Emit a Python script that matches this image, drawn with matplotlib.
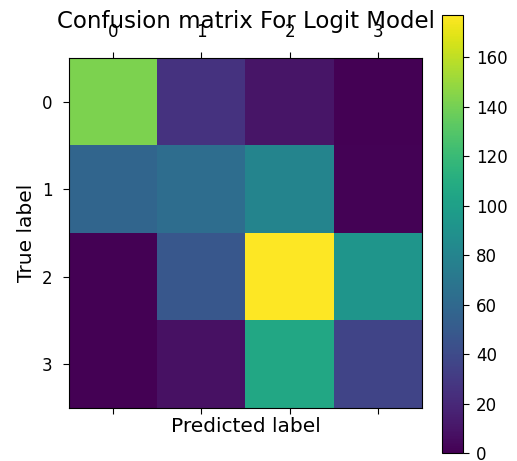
import numpy as np
import matplotlib.pyplot as plt

# Données de la matrice de confusion
labels = ['0', '1', '2', '3']
row_0 = [142, 26, 10, 0]
row_1 = [58, 63, 80, 1]
row_2 = [0, 48, 177, 92]
row_3 = [0, 8, 106, 36]

cm = np.array([row_0, row_1, row_2, row_3])

fig = plt.figure(figsize=(5.17, 4.61), dpi=100)
ax = fig.add_axes([69 / 517, 1 - 408 / 461, 353 / 517, 350 / 461])
cax = fig.add_axes([442 / 517, 1 - 453 / 461, 21 / 517, 438 / 461])

im = ax.matshow(cm, cmap='viridis', aspect='auto')
cb = fig.colorbar(im, cax=cax)
cb.set_ticks([0, 20, 40, 60, 80, 100, 120, 140, 160])
cb.ax.tick_params(labelsize=12, length=4.5, pad=5)

ax.set_xticks(range(4))
ax.set_yticks(range(4))
ax.set_xticklabels(labels)
ax.set_yticklabels(labels)
ax.tick_params(labelsize=12, length=4.5, pad=7.5)
# titre placé à hauteur fixe (il chevauche les étiquettes du haut)
ax.set_title('Confusion matrix For Logit Model', fontsize=16.5, y=1.0, pad=21.5)
ax.set_xlabel('Predicted label', fontsize=14.5, labelpad=2)
ax.set_ylabel('True label', fontsize=14.5)

fig.savefig('out.png', dpi=100)
